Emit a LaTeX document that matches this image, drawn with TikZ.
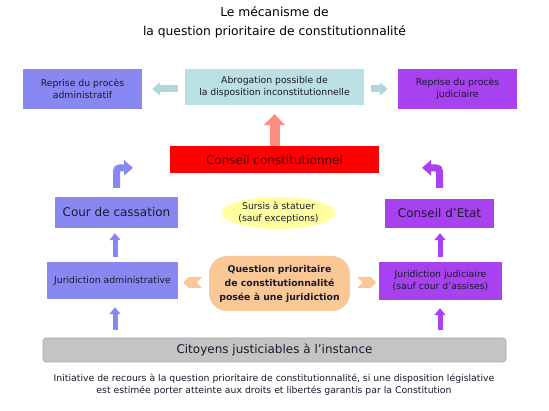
\documentclass[tikz,border=0pt]{standalone}
\usepackage{fontspec}
\setmainfont{DejaVu Sans}
\usetikzlibrary{arrows.meta,shapes.geometric,shapes.symbols,calc}
\definecolor{peri}{RGB}{136,136,242}
\definecolor{purp}{RGB}{168,66,240}
\definecolor{cteal}{RGB}{186,224,228}
\definecolor{tealar}{RGB}{176,214,220}
\definecolor{salm}{RGB}{250,140,130}
\definecolor{cyell}{RGB}{255,255,160}
\definecolor{peach}{RGB}{250,200,150}
\definecolor{cgray}{RGB}{196,196,196}
\definecolor{txt}{RGB}{25,25,45}
\definecolor{maroon}{RGB}{70,0,0}
\tikzset{
  boxx/.style={rectangle, inner sep=0pt, align=center, text=txt},
  small/.style={font=\fontsize{9.3}{12}\selectfont},
  big/.style={font=\fontsize{12}{14}\selectfont},
  upblue/.style={draw=peri, line width=5pt, -{Triangle[width=11pt,length=7pt]}},
  uppurp/.style={draw=purp, line width=5pt, -{Triangle[width=11pt,length=7pt]}},
  tealarrow/.style={draw=tealar, line width=7pt, -{Triangle[width=13pt,length=8pt]}},
  salmarrow/.style={draw=salm, line width=10pt, -{Triangle[width=21pt,length=11pt]}},
  bentblue/.style={draw=peri, line width=7pt, -{Triangle[width=15pt,length=9pt]}},
  bentpurp/.style={draw=purp, line width=7pt, -{Triangle[width=15pt,length=9pt]}},
  chev/.style={signal, fill=peach, inner sep=0pt, minimum width=19pt, minimum height=11pt}
}
\begin{document}
\begin{tikzpicture}[x=1pt,y=-1pt]
\useasboundingbox[fill=white] (0,0) rectangle (549,411);
% title
\node[align=center, font=\fontsize{12.3}{19}\selectfont, text=black] (title) at (274.5,22.5)
  {Le mécanisme de\\la question prioritaire de constitutionnalité};
% top row
\node[boxx, small, fill=peri, minimum width=119pt, minimum height=40pt] (ra) at (82.5,89)
  {Reprise du procès\\administratif};
\node[boxx, small, fill=cteal, minimum width=179pt, minimum height=36pt] (ab) at (274.5,87)
  {Abrogation possible de\\la disposition inconstitutionnelle};
\node[boxx, small, fill=purp, minimum width=119pt, minimum height=40pt] (rj) at (457.5,89)
  {Reprise du procès\\judiciaire};
% conseil constitutionnel
\node[boxx, fill=red, text=maroon, font=\fontsize{12}{14}\selectfont, minimum width=209pt, minimum height=27pt] (cc) at (274.5,160)
  {Conseil constitutionnel};
% middle row
\node[boxx, big, fill=peri, minimum width=123pt, minimum height=31pt] (co) at (116.5,212.5)
  {Cour de cassation};
\node[ellipse, inner sep=0pt, align=center, text=txt, small, fill=cyell, minimum width=111pt, minimum height=32pt] (su) at (278.5,213)
  {Sursis à statuer\\(sauf exceptions)};
\node[boxx, big, fill=purp, minimum width=109pt, minimum height=29pt] (ce) at (439.5,213.5)
  {Conseil d’Etat};
% lower row
\node[boxx, small, fill=peri, minimum width=131pt, minimum height=37pt] (ja) at (112.5,280.5)
  {Juridiction administrative};
\node[boxx, fill=peach, rounded corners=18pt, font=\bfseries\fontsize{9.3}{14}\selectfont, minimum width=141pt, minimum height=55pt] (qpc) at (279.5,283.5)
  {Question prioritaire\\de constitutionnalité\\posée à une juridiction};
\node[boxx, small, fill=purp, minimum width=123pt, minimum height=38pt] (jj) at (440.5,281)
  {Juridiction judiciaire\\(sauf cour d’assises)};
% citizens
\node[boxx, fill=cgray, draw={rgb,255:red,170;green,170;blue,170}, line width=0.6pt, rounded corners=3pt, font=\fontsize{12}{15}\selectfont, minimum width=463pt, minimum height=24pt] (cit) at (274.5,350)
  {Citoyens justiciables à l’instance};
\node[align=center, small, text=txt] (note) at (274,385)
  {Initiative de recours à la question prioritaire de constitutionnalité, si une disposition législative\\est estimée porter atteinte aux droits et libertés garantis par la Constitution};
% arrows
\draw[tealarrow, shorten <=7pt, shorten >=10pt] (ab.west |- ra.east) -- (ra.east);
\draw[tealarrow, shorten <=7pt, shorten >=10pt] (ab.east |- rj.west) -- (rj.west);
\draw[salmarrow, shorten >=9pt] (cc.north) -- (ab.south);
\draw[upblue, shorten <=5pt, shorten >=5pt] ($(ja.north)+(2.5,0)$) -- ($(co.south)+(-1.5,0)$);
\draw[upblue, shorten <=8pt, shorten >=8pt] ($(ja.south |- cit.north)+(2.5,0)$) -- ($(ja.south)+(2.5,0)$);
\draw[uppurp, shorten <=5pt, shorten >=5pt] ($(jj.north)+(-0.5,0)$) -- ($(ce.south)+(0.5,0)$);
\draw[uppurp, shorten <=8pt, shorten >=8pt] ($(jj.south |- cit.north)+(-0.5,0)$) -- ($(jj.south)+(-0.5,0)$);
% bent arrows
\coordinate (lbend) at ($(co.north)+(0,-29)$);
\coordinate (lend) at ($(co.north)+(16.5,-29)$);
\draw[bentblue] ($(co.north)+(0,-9)$) -- ($(co.north)+(0,-21)$) .. controls (lbend) .. ($(co.north)+(8,-29)$) -- (lend);
\coordinate (rbend) at ($(ce.north)+(0,-31)$);
\coordinate (rend) at ($(ce.north)+(-17.5,-31)$);
\draw[bentpurp] ($(ce.north)+(0,-11)$) -- ($(ce.north)+(0,-23)$) .. controls (rbend) .. ($(ce.north)+(-8,-31)$) -- (rend);
% chevrons
\node[chev, signal to=west, signal from=east] (chl) at (192.5,282.5) {};
\node[chev, signal to=east, signal from=west] (chr) at (366.5,282.5) {};
\end{tikzpicture}
\end{document}
